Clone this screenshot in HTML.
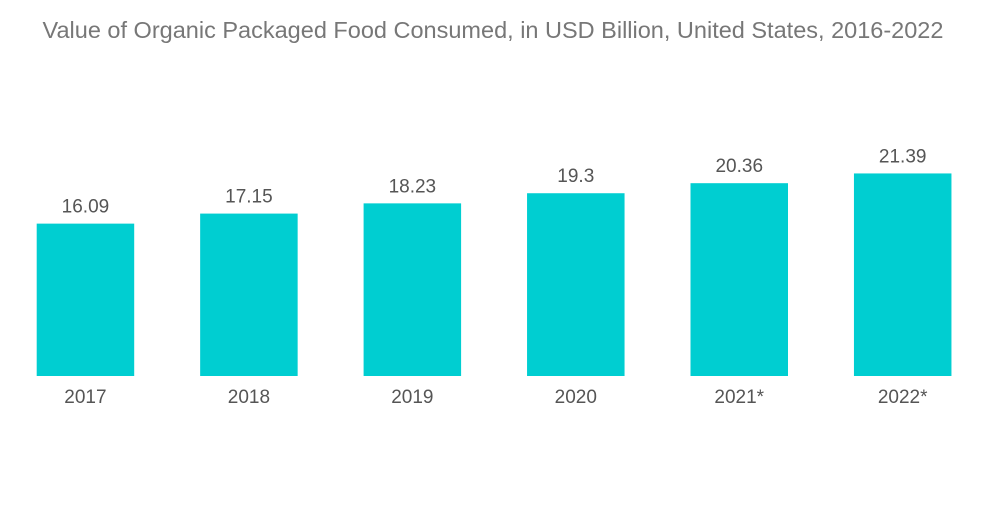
<!DOCTYPE html>
<html><head><meta charset="utf-8"><style>
body{margin:0;background:#fff;}
svg text{font-family:"Liberation Sans",sans-serif;}
</style></head><body>
<svg width="1000" height="504" viewBox="0 0 1000 504">
<text x="493" y="38" text-anchor="middle" font-size="23.5" fill="#777">Value of Organic Packaged Food Consumed, in USD Billion, United States, 2016-2022</text>
<g id="bars"></g>
</svg>
<script>
const categories=["2017","2018","2019","2020","2021*","2022*"];
const values=[16.09,17.15,18.23,19.3,20.36,21.39];
const valueLabels=["16.09","17.15","18.23","19.3","20.36","21.39"];
const base=376,scale=9.47,x0=36.7,step=163.45,bw=97.5;
const x=i=>x0+i*step;
const y=v=>base-v*scale;
const g=document.getElementById('bars');
const ns="http://www.w3.org/2000/svg";
categories.forEach((c,i)=>{
  const r=document.createElementNS(ns,'rect');
  
  
  r.setAttribute('x',x(i));r.setAttribute('y',y(values[i]));
  r.setAttribute('width',bw);r.setAttribute('height',base-y(values[i]));
  r.setAttribute('fill','#00ced1');g.appendChild(r);
  const t=document.createElementNS(ns,'text');
  
  
  t.setAttribute('x',x(i)+bw/2);t.setAttribute('y',y(values[i])-11);
  t.setAttribute('text-anchor','middle');t.setAttribute('font-size','19');t.setAttribute('fill','#555');
  t.textContent=valueLabels[i];g.appendChild(t);
  const l=document.createElementNS(ns,'text');
  
  
  l.setAttribute('x',x(i)+bw/2);l.setAttribute('y',403);
  l.setAttribute('text-anchor','middle');l.setAttribute('font-size','19');l.setAttribute('fill','#555');
  l.textContent=c;g.appendChild(l);
});
</script>
</body></html>
